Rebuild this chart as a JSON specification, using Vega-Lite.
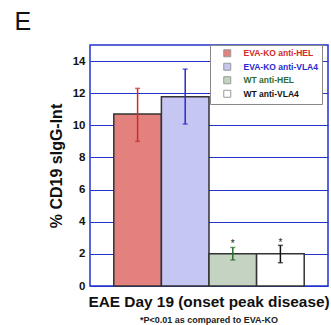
{
  "$schema": "https://vega.github.io/schema/vega-lite/v6.json",
  "width": 238,
  "height": 241,
  "autosize": {"type": "none"},
  "padding": {"left": 90, "top": 45, "right": 3, "bottom": 39},
  "background": "white",
  "config": {
    "font": "Liberation Sans",
    "view": {"stroke": "#2233cc", "strokeWidth": 1.5}
  },
  "title": {
    "text": "EAE Day 19 (onset peak disease)",
    "subtitle": "*P<0.01 as compared to EVA-KO",
    "orient": "bottom",
    "anchor": "middle",
    "frame": "group",
    "fontSize": 15.4,
    "fontWeight": "bold",
    "color": "#111",
    "offset": 3,
    "subtitleFontSize": 9,
    "subtitleFontWeight": "bold",
    "subtitleColor": "#222",
    "subtitlePadding": 6
  },
  "data": {
    "values": [
      {"group": "EVA-KO anti-HEL", "value": 10.7, "lo": 9.0, "hi": 12.3, "star": "", "starY": 0},
      {"group": "EVA-KO anti-VLA4", "value": 11.78, "lo": 10.08, "hi": 13.5, "star": "", "starY": 0},
      {"group": "WT anti-HEL", "value": 2.0, "lo": 1.62, "hi": 2.4, "star": "*", "starY": 2.4},
      {"group": "WT anti-VLA4", "value": 2.0, "lo": 1.45, "hi": 2.53, "star": "*", "starY": 2.5}
    ]
  },
  "resolve": {"axis": {"x": "independent"}},
  "layer": [
    {
      "mark": {"type": "bar", "stroke": "#333", "strokeWidth": 1.5},
      "encoding": {
        "x": {
          "field": "group", "type": "nominal",
          "sort": ["EVA-KO anti-HEL", "EVA-KO anti-VLA4", "WT anti-HEL", "WT anti-VLA4"],
          "scale": {"paddingInner": 0, "paddingOuter": 0.5},
          "axis": {"orient": "bottom", "labels": false, "ticks": false, "domain": false, "title": null}
        },
        "y": {
          "field": "value", "type": "quantitative",
          "scale": {"domain": [0, 15], "nice": false},
          "axis": {
            "values": [0, 2, 4, 6, 8, 10, 12, 14],
            "title": "% CD19 sIgG-Int",
            "titleFontSize": 16, "titleFontWeight": "bold", "titleColor": "#111",
            "titlePadding": 8,
            "labelFontSize": 11.5, "labelFontWeight": "bold", "labelColor": "#111",
            "labelPadding": 5,
            "ticks": false, "domain": false,
            "grid": true, "gridColor": "#2233cc", "gridWidth": 1, "gridOpacity": 1
          }
        },
        "fill": {
          "field": "group", "type": "nominal",
          "sort": ["EVA-KO anti-HEL", "EVA-KO anti-VLA4", "WT anti-HEL", "WT anti-VLA4"],
          "scale": {"range": ["#e2817d", "#c6c6f2", "#c4d3c2", "#ffffff"]},
          "legend": {
            "title": null,
            "orient": "none",
            "legendX": 120,
            "legendY": 0,
            "padding": 4,
            "strokeColor": "#888",
            "fillColor": "white",
            "symbolType": "square",
            "symbolSize": 49,
            "symbolOffset": 9,
            "symbolStrokeColor": "#999",
            "symbolStrokeWidth": 1,
            "labelFontSize": 8.5,
            "labelFontWeight": "bold",
            "labelOffset": 12,
            "rowPadding": 1.5,
            "encode": {
              "labels": {
                "update": {
                  "fill": {"signal": "datum.value === 'EVA-KO anti-HEL' ? '#d42a2a' : datum.value === 'EVA-KO anti-VLA4' ? '#2a2ad0' : datum.value === 'WT anti-HEL' ? '#2e6b2e' : '#111111'"}
                }
              }
            }
          }
        }
      }
    },
    {
      "mark": {"type": "rule", "strokeWidth": 1.5},
      "encoding": {
        "x": {
          "field": "group", "type": "nominal",
          "sort": ["EVA-KO anti-HEL", "EVA-KO anti-VLA4", "WT anti-HEL", "WT anti-VLA4"],
          "axis": {"orient": "top", "labels": false, "ticks": false, "domain": false,
                   "title": "E", "titleFontSize": 25, "titleFontWeight": "normal", "titleColor": "#111",
                   "titleAnchor": "start", "titleAlign": "left", "titleBaseline": "alphabetic",
                   "titleX": -76, "titleY": -16}
        },
        "y": {
          "field": "lo", "type": "quantitative",
          "axis": {
            "values": [0, 2, 4, 6, 8, 10, 12, 14],
            "title": "% CD19 sIgG-Int",
            "titleFontSize": 16, "titleFontWeight": "bold", "titleColor": "#111",
            "titlePadding": 8,
            "labelFontSize": 11.5, "labelFontWeight": "bold", "labelColor": "#111",
            "labelPadding": 5,
            "ticks": false, "domain": false,
            "grid": true, "gridColor": "#2233cc", "gridWidth": 1, "gridOpacity": 1
          }
        },
        "y2": {"field": "hi"},
        "color": {
          "field": "group", "type": "nominal",
          "sort": ["EVA-KO anti-HEL", "EVA-KO anti-VLA4", "WT anti-HEL", "WT anti-VLA4"],
          "scale": {"range": ["#d42a2a", "#2a2ad0", "#2e6b2e", "#111111"]},
          "legend": null
        }
      }
    },
    {
      "mark": {"type": "tick", "size": 5, "thickness": 1.5, "orient": "horizontal"},
      "encoding": {
        "x": {"field": "group", "type": "nominal", "sort": ["EVA-KO anti-HEL", "EVA-KO anti-VLA4", "WT anti-HEL", "WT anti-VLA4"], "axis": null},
        "y": {
          "field": "hi", "type": "quantitative",
          "axis": {
            "values": [0, 2, 4, 6, 8, 10, 12, 14],
            "title": "% CD19 sIgG-Int",
            "titleFontSize": 16, "titleFontWeight": "bold", "titleColor": "#111",
            "titlePadding": 8,
            "labelFontSize": 11.5, "labelFontWeight": "bold", "labelColor": "#111",
            "labelPadding": 5,
            "ticks": false, "domain": false,
            "grid": true, "gridColor": "#2233cc", "gridWidth": 1, "gridOpacity": 1
          }
        },
        "color": {"field": "group", "type": "nominal", "sort": ["EVA-KO anti-HEL", "EVA-KO anti-VLA4", "WT anti-HEL", "WT anti-VLA4"], "legend": null}
      }
    },
    {
      "mark": {"type": "tick", "size": 5, "thickness": 1.5, "orient": "horizontal"},
      "encoding": {
        "x": {"field": "group", "type": "nominal", "sort": ["EVA-KO anti-HEL", "EVA-KO anti-VLA4", "WT anti-HEL", "WT anti-VLA4"], "axis": null},
        "y": {
          "field": "lo", "type": "quantitative",
          "axis": {
            "values": [0, 2, 4, 6, 8, 10, 12, 14],
            "title": "% CD19 sIgG-Int",
            "titleFontSize": 16, "titleFontWeight": "bold", "titleColor": "#111",
            "titlePadding": 8,
            "labelFontSize": 11.5, "labelFontWeight": "bold", "labelColor": "#111",
            "labelPadding": 5,
            "ticks": false, "domain": false,
            "grid": true, "gridColor": "#2233cc", "gridWidth": 1, "gridOpacity": 1
          }
        },
        "color": {"field": "group", "type": "nominal", "sort": ["EVA-KO anti-HEL", "EVA-KO anti-VLA4", "WT anti-HEL", "WT anti-VLA4"], "legend": null}
      }
    },
    {
      "mark": {"type": "text", "fontSize": 10, "color": "#222", "baseline": "alphabetic"},
      "encoding": {
        "x": {"field": "group", "type": "nominal", "sort": ["EVA-KO anti-HEL", "EVA-KO anti-VLA4", "WT anti-HEL", "WT anti-VLA4"], "axis": null},
        "y": {
          "field": "starY", "type": "quantitative",
          "axis": {
            "values": [0, 2, 4, 6, 8, 10, 12, 14],
            "title": "% CD19 sIgG-Int",
            "titleFontSize": 16, "titleFontWeight": "bold", "titleColor": "#111",
            "titlePadding": 8,
            "labelFontSize": 11.5, "labelFontWeight": "bold", "labelColor": "#111",
            "labelPadding": 5,
            "ticks": false, "domain": false,
            "grid": true, "gridColor": "#2233cc", "gridWidth": 1, "gridOpacity": 1
          }
        },
        "text": {"field": "star"}
      }
    }
  ]
}
